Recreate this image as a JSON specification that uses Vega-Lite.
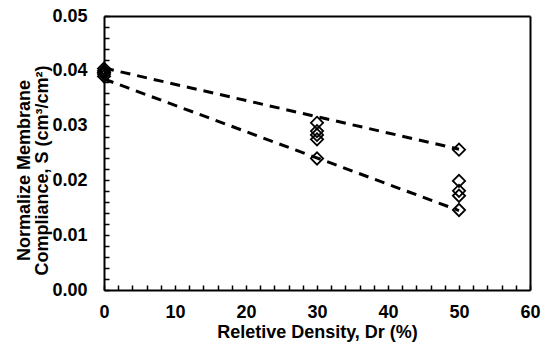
{
  "$schema": "https://vega.github.io/schema/vega-lite/v6.json",
  "autosize": {"type": "none"},
  "width": 426,
  "height": 274,
  "padding": {"left": 104, "top": 16, "right": 11, "bottom": 57},
  "background": "white",
  "config": {
    "view": {"stroke": null},
    "font": "Liberation Sans",
    "axis": {
      "domainColor": "black",
      "domainWidth": 2,
      "tickColor": "black",
      "tickWidth": 1.5,
      "labelFont": "Liberation Sans",
      "labelFontWeight": "bold",
      "labelFontSize": 18,
      "labelColor": "black",
      "titleFont": "Liberation Sans",
      "titleFontWeight": "bold",
      "titleFontSize": 18,
      "titleColor": "black",
      "grid": false,
      "labelOverlap": false
    }
  },
  "resolve": {"axis": {"x": "independent", "y": "independent"}},
  "datasets": {
    "pts": [
      {"dr": 0, "s": 0.0404},
      {"dr": 0, "s": 0.0400},
      {"dr": 0, "s": 0.0397},
      {"dr": 0, "s": 0.0394},
      {"dr": 0, "s": 0.0390},
      {"dr": 30, "s": 0.0305},
      {"dr": 30, "s": 0.0290},
      {"dr": 30, "s": 0.0283},
      {"dr": 30, "s": 0.0275},
      {"dr": 30, "s": 0.0240},
      {"dr": 50, "s": 0.0256},
      {"dr": 50, "s": 0.0199},
      {"dr": 50, "s": 0.0181},
      {"dr": 50, "s": 0.0172},
      {"dr": 50, "s": 0.0146}
    ],
    "trend": [
      {"line": "upper", "dr": 0, "s": 0.0405},
      {"line": "upper", "dr": 50, "s": 0.0257},
      {"line": "lower", "dr": 0, "s": 0.0385},
      {"line": "lower", "dr": 50, "s": 0.0145}
    ]
  },
  "layer": [
    {
      "data": {"name": "pts"},
      "mark": {"type": "point", "opacity": 0},
      "encoding": {
        "x": {
          "field": "dr", "type": "quantitative",
          "scale": {"domain": [0, 60], "nice": false, "zero": false},
          "axis": {"orient": "top", "title": null, "labels": false, "ticks": false, "domain": true}
        },
        "y": {
          "field": "s", "type": "quantitative",
          "scale": {"domain": [0, 0.05], "nice": false, "zero": false},
          "axis": {"orient": "right", "title": null, "labels": false, "ticks": false, "domain": true}
        }
      }
    },
    {
      "data": {"name": "trend"},
      "mark": {"type": "line", "color": "black", "strokeWidth": 3, "strokeDash": [10, 7]},
      "encoding": {
        "x": {
          "field": "dr", "type": "quantitative",
          "axis": {
            "orient": "bottom", "title": null, "labels": false, "domain": false,
            "values": [2,4,6,8,12,14,16,18,22,24,26,28,32,34,36,38,42,44,46,48,52,54,56,58],
            "tickSize": -5
          }
        },
        "y": {
          "field": "s", "type": "quantitative",
          "axis": {
            "orient": "left", "title": null, "labels": false, "domain": false,
            "values": [0.002,0.004,0.006,0.008,0.012,0.014,0.016,0.018,0.022,0.024,0.026,0.028,0.032,0.034,0.036,0.038,0.042,0.044,0.046,0.048],
            "tickSize": -5
          }
        },
        "detail": {"field": "line"}
      }
    },
    {
      "data": {"name": "pts"},
      "mark": {"type": "point", "shape": "diamond", "size": 150, "filled": false, "stroke": "black", "strokeWidth": 1.8, "opacity": 1},
      "encoding": {
        "x": {
          "field": "dr", "type": "quantitative",
          "axis": {
            "orient": "bottom",
            "title": "Reletive Density, Dr (%)",
            "values": [0, 10, 20, 30, 40, 50, 60],
            "format": "d",
            "tickSize": -5,
            "labelPadding": 18,
            "titlePadding": 2,
            "labelFlush": false,
            "labelBound": false
          }
        },
        "y": {
          "field": "s", "type": "quantitative",
          "axis": {
            "orient": "left",
            "title": ["Normalize Membrane", "Compliance, S (cm³/cm²)"],
            "values": [0, 0.01, 0.02, 0.03, 0.04, 0.05],
            "format": ".2f",
            "tickSize": -5,
            "labelPadding": 22,
            "titleX": -71,
            "titleY": 154,
            "titleLineHeight": 18,
            "labelFlush": false,
            "labelBound": false
          }
        }
      }
    }
  ]
}
